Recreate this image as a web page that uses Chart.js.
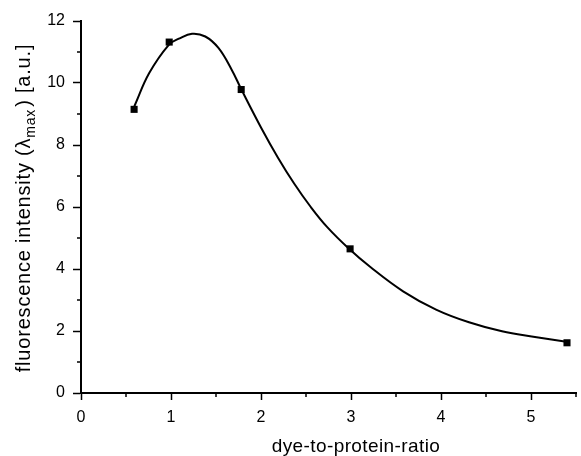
<!DOCTYPE html>
<html>
<head>
<meta charset="utf-8">
<script src="https://cdn.jsdelivr.net/npm/chart.js@4/dist/chart.umd.min.js"></script>
<style>
  html, body { margin: 0; padding: 0; background: #fff; }
  #wrap { width: 581px; height: 456px; }
</style>
</head>
<body>
<div id="wrap"><canvas id="grafico"></canvas></div>
<script>
// measured points
var ratioX = [0.59, 0.98, 1.78, 2.99, 5.40];
var intensityY = [9.15, 11.32, 9.79, 4.65, 1.62];

// fitted curve
var fitX = [0.593, 0.758, 0.978, 1.088, 1.234, 1.381, 1.527, 1.674, 1.784, 2.003, 2.187, 2.37, 2.553, 2.736, 2.975, 3.212, 3.579, 3.945, 4.311, 4.678, 5.044, 5.374];
var fitY = [9.25, 10.32, 11.24, 11.43, 11.59, 11.50, 11.13, 10.43, 9.78, 8.55, 7.60, 6.75, 6.00, 5.35, 4.66, 4.07, 3.28, 2.69, 2.28, 1.99, 1.81, 1.66];

var xTicks = [0, 1, 2, 3, 4, 5];
var yTicks = [0, 2, 4, 6, 8, 10, 12];

var fuente = "'Liberation Sans', Arial, sans-serif";

function pares(xs, ys){
	return xs.map(function(x, i){ return {x: x, y: ys[i]}; });
}

// minor ticks + axis titles
var extras = {
	id: 'extras',
	afterDraw: function(chart){
		var ctx = chart.ctx;
		var xs = chart.scales.x, ys = chart.scales.y;
		var area = chart.chartArea;
		ctx.save();
		ctx.strokeStyle = '#000';
		ctx.lineWidth = 1.5;
		ctx.beginPath();
		for (var v = 0.5; v <= 5.5; v += 1){
			var px = xs.getPixelForValue(v);
			ctx.moveTo(px, area.bottom);
			ctx.lineTo(px, area.bottom + 4);
		}
		for (var w = 1; w <= 11; w += 2){
			var py = ys.getPixelForValue(w);
			ctx.moveTo(area.left, py);
			ctx.lineTo(area.left - 4, py);
		}
		ctx.stroke();

		ctx.fillStyle = '#000';
		ctx.textBaseline = 'alphabetic';
		// x title
		ctx.font = '19px ' + fuente;
		ctx.letterSpacing = '0.4px';
		ctx.textAlign = 'center';
		ctx.fillText('dye-to-protein-ratio', 356, 452);

		// y title with subscript
		ctx.letterSpacing = '0.8px';
		var p1 = 'fluorescence intensity (\u03bb', sub = 'max', p2 = ') [a.u.]';
		ctx.font = '20px ' + fuente;
		var w1 = ctx.measureText(p1).width, w3 = ctx.measureText(p2).width;
		ctx.font = '14px ' + fuente;
		var w2 = ctx.measureText(sub).width;
		var total = w1 + w2 + w3 + 2;
		ctx.translate(30, 208);
		ctx.rotate(-Math.PI / 2);
		ctx.textAlign = 'left';
		var sx = -total / 2;
		ctx.font = '20px ' + fuente;
		ctx.fillText(p1, sx, 0);
		ctx.font = '14px ' + fuente;
		ctx.fillText(sub, sx + w1, 5);
		ctx.font = '20px ' + fuente;
		ctx.fillText(p2, sx + w1 + w2 + 2, 0);
		ctx.restore();
	}
};

var lienzo = document.getElementById('grafico').getContext('2d');
window.grafico = new Chart(lienzo, {
	type: 'scatter',
	data: {
		datasets: [{
			label: 'fit',
			data: pares(fitX, fitY),
			showLine: true,
			borderColor: '#000',
			borderWidth: 2,
			pointRadius: 0,
			tension: 0.4,
			fill: false
		}, {
			label: 'data',
			data: pares(ratioX, intensityY),
			showLine: false,
			pointStyle: 'rect',
			pointRadius: 5,
			backgroundColor: '#000',
			borderColor: '#000',
			borderWidth: 0
		}]
	},
	options: {
		responsive: true,
		maintainAspectRatio: false,
		animation: false,
		layout: { padding: { top: 21, right: 0, left: 0, bottom: 0 } },
		plugins: {
			legend: { display: false },
			tooltip: { enabled: false }
		},
		scales: {
			x: {
				type: 'linear',
				min: 0,
				max: 5.5,
				afterFit: function(s){ s.height = 63; },
				afterBuildTicks: function(s){
					s.ticks = xTicks.map(function(v){ return {value: v}; });
				},
				border: { color: '#000', width: 2 },
				grid: { drawOnChartArea: false, tickLength: 7, tickColor: '#000', tickWidth: 1.5 },
				ticks: { color: '#000', font: { size: 16, family: fuente }, padding: 8, maxRotation: 0 }
			},
			y: {
				type: 'linear',
				min: 0,
				max: 12,
				afterFit: function(s){ s.width = 81; },
				afterBuildTicks: function(s){
					s.ticks = yTicks.map(function(v){ return {value: v}; });
				},
				border: { color: '#000', width: 2 },
				grid: { drawOnChartArea: false, tickLength: 8, tickColor: '#000', tickWidth: 1.5 },
				ticks: { color: '#000', font: { size: 16, family: fuente }, padding: 8 }
			}
		}
	},
	plugins: [extras]
});
</script>
</body>
</html>
